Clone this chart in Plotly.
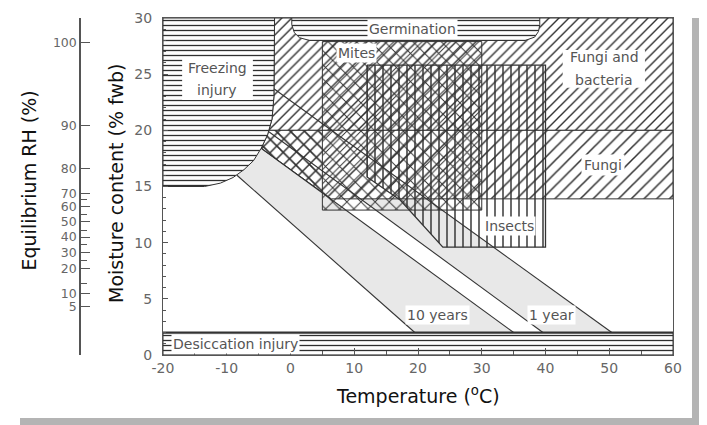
import plotly.graph_objects as go

# ---------------- data ----------------
temp_ticks = [-20, -10, 0, 10, 20, 30, 40, 50, 60]
temp_tick_text = ["-20", "-10", "0", "10", "20", "30", "40", "50", "60"]
mc_ticks = [0, 5, 10, 15, 20, 25, 30]
mc_tick_text = ["0", "5", "10", "15", "20", "25", "30"]

# Equilibrium RH scale, placed at the matching moisture content
rh_labels = ["100", "90", "80", "70", "60", "50", "40", "30", "20", "10", "5"]
rh_at_mc = [27.8, 20.4, 16.6, 14.4, 13.2, 11.9, 10.5, 9.1, 7.7, 5.5, 4.3]
rh_minor_at_mc = [13.8, 12.55, 11.1, 9.8, 8.4, 6.4]

# regions (temperature, moisture content)
freeze_x = [-20, -2.5, -2.6, -2.9, -3.6, -4.6, -5.8, -7.3, -9.0, -11.0, -13.5, -20]
freeze_y = [30, 30, 23.0, 21.0, 19.6, 18.4, 17.3, 16.5, 15.8, 15.3, 15.0, 15.0]

germ_x = [0.2, 0.2, 0.6, 1.4, 3.0, 36.8, 38.3, 38.9, 39.1, 39.1]
germ_y = [30, 29.4, 28.7, 28.25, 28.0, 28.0, 28.3, 28.8, 29.4, 30]

fungi_bact_x = [-2.5, 60, 60, -3.4, -2.9, -2.6]
fungi_bact_y = [30, 30, 20, 20, 21.0, 23.0]

fungi_x = [-3.4, 60, 60, 6.4, -4.6, -3.6]
fungi_y = [20, 20, 13.9, 13.9, 18.4, 19.6]

cross_x = [-3.4, 5, 5, -4.6, -3.6]
cross_y = [20, 20, 14.5, 18.4, 19.6]

mites_x = [5, 30, 30, 5]
mites_y = [12.9, 12.9, 27.9, 27.9]

insects_x = [12, 40, 40, 23.9, 17.2, 12]
insects_y = [25.8, 25.8, 9.6, 9.6, 13.8, 15.85]

desic_x = [-20, 60, 60, -20]
desic_y = [0, 0, 2, 2]

# storage-life bands
ten_year_x = [-8.4, 19.5, 35.0, -4.6, -5.8, -7.3]
ten_year_y = [16.0, 2.0, 2.0, 18.4, 17.3, 16.5]
one_year_x = [-3.45, 39.6, 50.4, -2.6, -2.9]
one_year_y = [19.9, 2.0, 2.0, 23.7, 21.0]

line_a_x, line_a_y = [-8.4, 19.5], [16.0, 2.0]
line_b_x, line_b_y = [-4.6, 35.0], [18.4, 2.0]
line_c_x, line_c_y = [-3.45, 39.6], [19.9, 2.0]
line_d_x, line_d_y = [-2.6, 50.4], [23.7, 2.0]

# ---------------- styling ----------------
FONT = "DejaVu Sans"
HATCH = "#303030"
EDGE = "#333333"
BAND = "#e8e8e8"
CLEAR = "rgba(0,0,0,0)"
LABEL = "#555555"

W, H = 707, 425
PAGE_OFF = 8          # the page body margin shifts the figure by this much
ML, MR, MT, MB = 2, 42, 10, 78
PW = W - ML - MR
PH = H - MT - MB


def px_x(p):
    """screen pixel (as seen in the window) -> paper x"""
    return (p - PAGE_OFF - ML) / PW


def px_y(p):
    """screen pixel (as seen in the window) -> paper y"""
    return (H - MB - (p - PAGE_OFF)) / PH


fig = go.Figure()


def closed(v):
    return list(v) + [v[0]]


def add_band(xs, ys):
    fig.add_trace(go.Scatter(x=closed(xs), y=closed(ys), mode="lines", fill="toself",
                             fillcolor=BAND, line=dict(width=0), hoverinfo="skip",
                             showlegend=False))


def add_region(xs, ys, shape, size, solidity, bg, lw=1.0):
    fig.add_trace(go.Scatter(
        x=closed(xs), y=closed(ys), mode="lines", fill="toself", fillcolor=bg,
        fillpattern=dict(shape=shape, size=size, solidity=solidity,
                         fgcolor=HATCH, bgcolor=bg, fillmode="replace"),
        line=dict(color=EDGE if lw > 0 else CLEAR, width=lw),
        hoverinfo="skip", showlegend=False))


def add_line(xs, ys, w=1.1):
    fig.add_trace(go.Scatter(x=xs, y=ys, mode="lines", line=dict(color=EDGE, width=w),
                             hoverinfo="skip", showlegend=False))


add_band(ten_year_x, ten_year_y)
add_band(one_year_x, one_year_y)

add_region(fungi_bact_x, fungi_bact_y, "/", 7, 0.2, "white")
add_region(fungi_x, fungi_y, "/", 9, 0.17, "white")
add_region(freeze_x, freeze_y, "-", 5, 0.26, "white")
add_region(germ_x, germ_y, "-", 5, 0.26, "white")
add_region(desic_x, desic_y, "-", 5, 0.26, "white")
add_region(cross_x, cross_y, "\\", 10, 0.17, CLEAR, lw=0)
add_region(mites_x, mites_y, "x", 10, 0.18, CLEAR)
add_region(insects_x, insects_y, "|", 8, 0.18, CLEAR, lw=1.3)

add_line(line_a_x, line_a_y)
add_line(line_b_x, line_b_y)
add_line(line_c_x, line_c_y)
add_line(line_d_x, line_d_y)
add_line([desic_x[2], desic_x[3]], [desic_y[2], desic_y[3]], w=2.2)

# dummy trace so the RH axis is drawn
fig.add_trace(go.Scatter(x=[temp_ticks[0]] * len(rh_at_mc), y=rh_at_mc, yaxis="y2",
                         mode="markers", marker=dict(opacity=0), hoverinfo="skip",
                         showlegend=False))

# ---------------- labels ----------------
lab_font = dict(family=FONT, size=14, color=LABEL)


def box_label(text, x, y, pad=1):
    fig.add_annotation(x=x, y=y, xref="x", yref="y", text=text, showarrow=False,
                       font=lab_font, bgcolor="white", borderpad=pad,
                       xanchor="center", yanchor="middle")


box_label("Germination", 19.2, 29.05)
box_label("Mites", 10.4, 26.85)
box_label("Fungi", 49.0, 16.9, pad=2)
box_label("Insects", 34.4, 11.5)
box_label("10 years", 23.0, 3.6)
box_label("1 year", 41.0, 3.6)
box_label("Desiccation injury", -8.55, 0.98)

# two-line labels with white boxes
fig.add_shape(type="rect", xref="x", yref="y", x0=-17.0, x1=-5.9, y0=22.7, y1=26.5,
              fillcolor="white", line=dict(width=0), layer="above")
fig.add_shape(type="rect", xref="x", yref="y", x0=42.7, x1=55.6, y0=23.8, y1=27.15,
              fillcolor="white", line=dict(width=0), layer="above")
for txt, x, y in [("Freezing", -11.5, 25.55), ("injury", -11.5, 23.6),
                  ("Fungi and", 49.2, 26.5), ("bacteria", 49.2, 24.5)]:
    fig.add_annotation(x=x, y=y, xref="x", yref="y", text=txt, showarrow=False,
                       font=lab_font, xanchor="center", yanchor="middle")

# axis titles
title_font = dict(family=FONT, size=19, color="#111111")
fig.add_annotation(x=px_x(418), y=px_y(395), xref="paper", yref="paper",
                   xanchor="center", yanchor="middle",
                   text="Temperature (<sup>o</sup>C)", showarrow=False, font=title_font)
fig.add_annotation(x=px_x(116), y=px_y(183), xref="paper", yref="paper", textangle=-90,
                   xanchor="center", yanchor="middle",
                   text="Moisture content (% fwb)", showarrow=False, font=title_font)
fig.add_annotation(x=px_x(28.5), y=px_y(181), xref="paper", yref="paper", textangle=-90,
                   xanchor="center", yanchor="middle",
                   text="Equilibrium RH (%)", showarrow=False, font=title_font)

# shadow frame
SHADOW = "#b4b4b4"
fig.add_shape(type="rect", xref="paper", yref="paper", x0=px_x(692), x1=px_x(720),
              y0=px_y(440), y1=px_y(18), fillcolor=SHADOW, line=dict(width=0))
fig.add_shape(type="rect", xref="paper", yref="paper", x0=px_x(20), x1=px_x(720),
              y0=px_y(440), y1=px_y(418), fillcolor=SHADOW, line=dict(width=0))

tick_font = dict(family=FONT, size=14, color="#666666")
rh_font = dict(family=FONT, size=12.5, color="#666666")
AX = "#555555"

fig.update_layout(
    width=W, height=H, autosize=False,
    margin=dict(l=ML, r=MR, t=MT, b=MB, autoexpand=False),
    paper_bgcolor="white", plot_bgcolor="white",
    showlegend=False,
    xaxis=dict(domain=[px_x(163), px_x(673)], range=[-20, 60], tickmode="array",
               tickvals=temp_ticks, ticktext=temp_tick_text, ticks="inside", ticklen=7,
               tickcolor=AX, showline=True, linecolor=AX, linewidth=1, mirror=True,
               showgrid=False, zeroline=False, tickfont=tick_font, automargin=False,
               minor=dict(dtick=5, ticks="inside", ticklen=4, tickcolor=AX)),
    yaxis=dict(domain=[px_y(355), px_y(18)], range=[0, 30], tickmode="array",
               tickvals=mc_ticks, ticktext=mc_tick_text,
               ticks="inside", ticklen=5, tickcolor=AX, showline=True, linecolor=AX,
               linewidth=1, mirror=True, showgrid=False, zeroline=False, tickfont=tick_font,
               ticklabelstandoff=7, automargin=False,
               minor=dict(dtick=1, ticks="inside", ticklen=3, tickcolor=AX)),
    yaxis2=dict(overlaying="y", anchor="free", position=px_x(80), side="left",
                range=[0, 30], tickmode="array", tickvals=rh_at_mc, ticktext=rh_labels,
                ticks="inside", ticklen=9, tickcolor=AX, showline=True, linecolor=AX,
                linewidth=1.5, showgrid=False, zeroline=False, tickfont=rh_font,
                automargin=False, autoshift=False,
                minor=dict(tickmode="array", tickvals=rh_minor_at_mc, ticks="inside",
                           ticklen=6, tickcolor=AX)),
)

fig.write_html("out.html")
